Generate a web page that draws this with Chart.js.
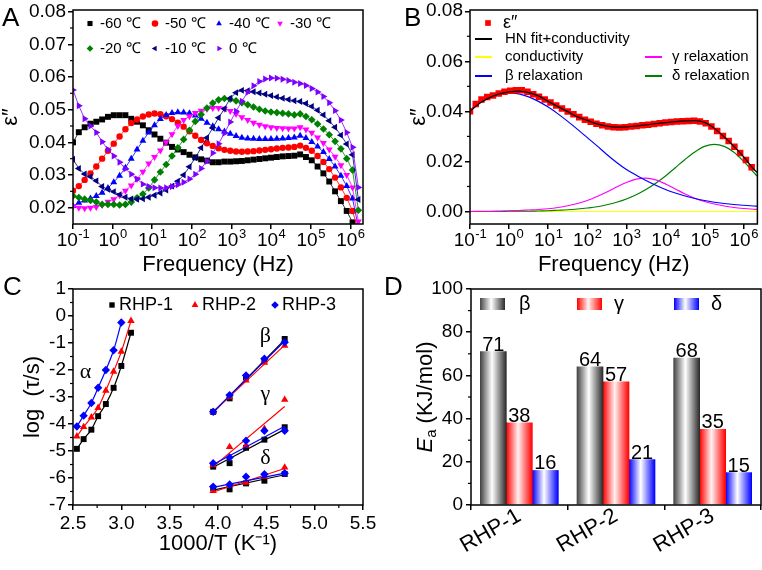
<!DOCTYPE html>
<html>
<head>
<meta charset="utf-8">
<title>Dielectric relaxation of RHP samples</title>
<script src="https://cdn.jsdelivr.net/npm/chart.js@4.4.1/dist/chart.umd.min.js"></script>
<style>
  html, body { margin: 0; padding: 0; background: #fff; }
  #fig { position: relative; width: 762px; height: 570px; overflow: hidden; }
  #fig canvas { position: absolute; }
  .tag { position: absolute; font: 26px "Liberation Sans", Arial, sans-serif; line-height: 1; color: #000; }
</style>
</head>
<body>
<div id="fig">
  <canvas id="chartA" width="381" height="285" style="left:0;top:0;width:381px;height:285px"></canvas>
  <canvas id="chartB" width="381" height="285" style="left:381px;top:0;width:381px;height:285px"></canvas>
  <canvas id="chartC" width="381" height="305" style="left:0;top:265px;width:381px;height:305px"></canvas>
  <canvas id="chartD" width="381" height="305" style="left:381px;top:265px;width:381px;height:305px"></canvas>
  <div class="tag" style="left:2px;top:4px">A</div>
  <div class="tag" style="left:404px;top:4px">B</div>
  <div class="tag" style="left:3px;top:273px">C</div>
  <div class="tag" style="left:384px;top:273px">D</div>
</div>
<script>
// ---- panel A / B: log10 of frequency (Hz) for each measured point
const logFreq = [
  -1.000, -0.853, -0.706, -0.559, -0.412, -0.265, -0.118, 0.029, 0.176, 0.323,
  0.470, 0.617, 0.764, 0.911, 1.058, 1.205, 1.352, 1.499, 1.646, 1.793,
  1.940, 2.087, 2.234, 2.381, 2.528, 2.675, 2.822, 2.969, 3.116, 3.263,
  3.410, 3.557, 3.704, 3.851, 3.998, 4.145, 4.292, 4.439, 4.586, 4.733,
  4.880, 5.027, 5.174, 5.321, 5.468, 5.615, 5.762, 5.909, 6.056, 6.203
];

// ε'' at each temperature
const eps60 = [
  0.0400, 0.0431, 0.0446, 0.0457, 0.0463, 0.0470, 0.0478, 0.0483, 0.0483, 0.0483,
  0.0472, 0.0463, 0.0452, 0.0437, 0.0424, 0.0411, 0.0399, 0.0386, 0.0378, 0.0370,
  0.0362, 0.0354, 0.0348, 0.0344, 0.0339, 0.0339, 0.0341, 0.0341, 0.0342, 0.0343,
  0.0345, 0.0347, 0.0349, 0.0351, 0.0353, 0.0355, 0.0357, 0.0358, 0.0359, 0.0363,
  0.0355, 0.0345, 0.0326, 0.0305, 0.0280, 0.0250, 0.0220, 0.0190, 0.0155, 0.0115
];
const eps50 = [
  0.0252, 0.0266, 0.0285, 0.0305, 0.0326, 0.0350, 0.0374, 0.0396, 0.0418, 0.0440,
  0.0459, 0.0470, 0.0479, 0.0485, 0.0488, 0.0486, 0.0480, 0.0471, 0.0460, 0.0448,
  0.0434, 0.0420, 0.0407, 0.0397, 0.0389, 0.0382, 0.0377, 0.0374, 0.0372, 0.0371,
  0.0372, 0.0373, 0.0375, 0.0377, 0.0379, 0.0381, 0.0383, 0.0384, 0.0386, 0.0390,
  0.0383, 0.0374, 0.0358, 0.0340, 0.0318, 0.0292, 0.0262, 0.0230, 0.0190, 0.0130
];
const eps40 = [
  0.0205, 0.0215, 0.0222, 0.0228, 0.0236, 0.0246, 0.0260, 0.0278, 0.0298, 0.0322,
  0.0350, 0.0378, 0.0405, 0.0430, 0.0452, 0.0471, 0.0484, 0.0490, 0.0492, 0.0491,
  0.0489, 0.0482, 0.0472, 0.0460, 0.0449, 0.0440, 0.0433, 0.0426, 0.0419, 0.0414,
  0.0412, 0.0411, 0.0410, 0.0410, 0.0410, 0.0411, 0.0412, 0.0413, 0.0415, 0.0420,
  0.0413, 0.0401, 0.0387, 0.0370, 0.0349, 0.0326, 0.0298, 0.0266, 0.0228, 0.0140
];
const eps30 = [
  0.0203, 0.0200, 0.0198, 0.0200, 0.0202, 0.0208, 0.0218, 0.0226, 0.0238, 0.0252,
  0.0268, 0.0288, 0.0310, 0.0335, 0.0355, 0.0375, 0.0400, 0.0425, 0.0450, 0.0468,
  0.0480, 0.0490, 0.0497, 0.0502, 0.0505, 0.0505, 0.0503, 0.0496, 0.0487, 0.0477,
  0.0468, 0.0460, 0.0454, 0.0449, 0.0446, 0.0444, 0.0443, 0.0442, 0.0442, 0.0446,
  0.0439, 0.0429, 0.0415, 0.0398, 0.0378, 0.0356, 0.0330, 0.0300, 0.0262, 0.0158
];
const eps20 = [
  0.0236, 0.0231, 0.0226, 0.0222, 0.0217, 0.0210, 0.0210, 0.0210, 0.0208, 0.0210,
  0.0217, 0.0230, 0.0242, 0.0260, 0.0285, 0.0309, 0.0332, 0.0358, 0.0383, 0.0409,
  0.0437, 0.0464, 0.0485, 0.0505, 0.0520, 0.0530, 0.0534, 0.0532, 0.0527, 0.0521,
  0.0515, 0.0508, 0.0501, 0.0496, 0.0493, 0.0491, 0.0489, 0.0487, 0.0484, 0.0487,
  0.0479, 0.0469, 0.0456, 0.0441, 0.0423, 0.0403, 0.0380, 0.0350, 0.0315, 0.0192
];
const eps10 = [
  0.0348, 0.0320, 0.0303, 0.0295, 0.0282, 0.0265, 0.0256, 0.0249, 0.0240, 0.0232,
  0.0227, 0.0226, 0.0227, 0.0232, 0.0238, 0.0245, 0.0254, 0.0266, 0.0281, 0.0300,
  0.0325, 0.0353, 0.0383, 0.0414, 0.0444, 0.0475, 0.0503, 0.0535, 0.0552, 0.0559,
  0.0558, 0.0555, 0.0551, 0.0547, 0.0543, 0.0539, 0.0535, 0.0531, 0.0527, 0.0525,
  0.0519, 0.0510, 0.0498, 0.0484, 0.0466, 0.0446, 0.0422, 0.0395, 0.0362, 0.0225
];
const eps0 = [
  0.0560, 0.0512, 0.0472, 0.0450, 0.0430, 0.0402, 0.0378, 0.0358, 0.0339, 0.0319,
  0.0302, 0.0288, 0.0272, 0.0265, 0.0261, 0.0260, 0.0261, 0.0265, 0.0270, 0.0278,
  0.0288, 0.0302, 0.0320, 0.0342, 0.0367, 0.0396, 0.0428, 0.0462, 0.0495, 0.0526,
  0.0553, 0.0573, 0.0586, 0.0594, 0.0597, 0.0596, 0.0593, 0.0589, 0.0584, 0.0580,
  0.0574, 0.0565, 0.0554, 0.0540, 0.0521, 0.0497, 0.0468, 0.0430, 0.0385, 0.0262
];

// panel B: measured ε'' and the fitted components
const epsB = [
  0.0400, 0.0429, 0.0447, 0.0457, 0.0463, 0.0471, 0.0478, 0.0482, 0.0484, 0.0484,
  0.0478, 0.0468, 0.0458, 0.0447, 0.0435, 0.0423, 0.0411, 0.0399, 0.0388, 0.0377,
  0.0367, 0.0359, 0.0351, 0.0345, 0.0340, 0.0337, 0.0336, 0.0337, 0.0340, 0.0342,
  0.0345, 0.0347, 0.0350, 0.0353, 0.0356, 0.0358, 0.0360, 0.0361, 0.0362, 0.0363,
  0.0360, 0.0353, 0.0340, 0.0322, 0.0302, 0.0282, 0.0259, 0.0234, 0.0206, 0.0177
];
const fitLogF = [-1, -0.75, -0.5, -0.25, 0, 0.25, 0.5, 0.75, 1, 1.25, 1.5, 1.75, 2, 2.25, 2.5,
  2.75, 3, 3.25, 3.5, 3.75, 4, 4.25, 4.5, 4.75, 5, 5.25, 5.5, 5.75, 6, 6.25, 6.35];
const hnFit = [0.0400, 0.0432, 0.0455, 0.0470, 0.0478, 0.0481, 0.0475, 0.0462, 0.0440, 0.0419,
  0.0399, 0.0378, 0.0364, 0.0350, 0.0341, 0.0337, 0.0338, 0.0342, 0.0346, 0.0351,
  0.0355, 0.0359, 0.0362, 0.0363, 0.0356, 0.0332, 0.0298, 0.0260, 0.0218, 0.0170, 0.0155];
const condFit = [0.0001, 0.0001, 0.0001, 0, 0, 0, 0, 0, 0, 0, 0, 0, 0, 0, 0, 0,
  0, 0, 0, 0, 0, 0, 0, 0, 0, 0, 0, 0, 0, 0, 0];
const betaFit = [0.0405, 0.0435, 0.0456, 0.0468, 0.0474, 0.0470, 0.0458, 0.0440, 0.0417, 0.0390,
  0.0360, 0.0328, 0.0295, 0.0262, 0.0228, 0.0196, 0.0168, 0.0145, 0.0124, 0.0105,
  0.0088, 0.0074, 0.0062, 0.0052, 0.0044, 0.0037, 0.0032, 0.0028, 0.0025, 0.0022, 0.0021];
const gammaFit = [0.0000, 0.0001, 0.0001, 0.0002, 0.0003, 0.0004, 0.0006, 0.0008, 0.0011, 0.0016,
  0.0023, 0.0032, 0.0044, 0.0060, 0.0078, 0.0098, 0.0116, 0.0129, 0.0133, 0.0126,
  0.0110, 0.0090, 0.0070, 0.0053, 0.0040, 0.0030, 0.0022, 0.0016, 0.0012, 0.0009, 0.0008];
const deltaFit = [0.0000, 0.0000, 0.0000, 0.0000, 0.0001, 0.0001, 0.0001, 0.0002, 0.0003, 0.0005,
  0.0007, 0.0010, 0.0014, 0.0019, 0.0027, 0.0037, 0.0050, 0.0067, 0.0088, 0.0113,
  0.0142, 0.0175, 0.0208, 0.0238, 0.0260, 0.0268, 0.0260, 0.0237, 0.0200, 0.0157, 0.0140];

// panel C: relaxation map, 1000/T vs log(tau)
const alphaInvT = [2.54, 2.61, 2.69, 2.76, 2.84, 2.92, 3.00, 3.10];
const alphaRHP1 = [-4.92, -4.56, -4.21, -3.71, -3.26, -2.66, -1.85, -0.62];
const alphaRHP2 = [-4.46, -4.11, -3.75, -3.40, -2.76, -2.06, -1.32, -0.18];
const alphaRHP3 = [-4.09, -3.69, -3.22, -2.66, -2.00, -1.27, -0.24];
const subInvT = [3.95, 4.12, 4.29, 4.48, 4.69];
const betaRHP1 = [-3.55, -3.05, -2.27, -1.65, -0.85];
const betaRHP2 = [-3.55, -3.00, -2.38, -1.73, -1.10];
const betaRHP3 = [-3.55, -2.93, -2.20, -1.58, -0.97];
const gammaRHP1 = [-5.58, -5.45, -4.88, -4.58, -4.12];
const gammaRHP2 = [-5.52, -4.85, -4.80, -4.18, -3.10];
const gammaRHP3 = [-5.45, -5.24, -4.62, -4.25, -4.25];
const deltaRHP1 = [-6.38, -6.42, -6.20, -6.10, -5.85];
const deltaRHP2 = [-6.48, -6.26, -6.17, -5.95, -5.61];
const deltaRHP3 = [-6.32, -6.24, -5.95, -5.86, -5.82];
const fitInvT = [3.95, 4.69];
const betaLine1 = [-3.58, -0.88], betaLine2 = [-3.55, -1.08], betaLine3 = [-3.55, -0.93];
const gammaLine1 = [-5.60, -4.20], gammaLine2 = [-5.58, -3.35], gammaLine3 = [-5.50, -4.08];
const deltaLine1 = [-6.45, -5.88], deltaLine2 = [-6.52, -5.65], deltaLine3 = [-6.35, -5.82];
const processNames = ['α', 'β', 'γ', 'δ'];
const processX = [2.63, 4.49, 4.49, 4.49];
const processY = [-2.1, -0.75, -2.9, -5.27];

// panel D: activation energies
const samples = ['RHP-1', 'RHP-2', 'RHP-3'];
const eaBeta = [71, 64, 68];
const eaGamma = [38, 57, 35];
const eaDelta = [16, 21, 15];

// tick labels
const decadeTicks = [-1, 0, 1, 2, 3, 4, 5, 6];
const epsTicksA = [0.02, 0.03, 0.04, 0.05, 0.06, 0.07, 0.08];
const epsTicksB = [0, 0.02, 0.04, 0.06, 0.08];
const invTTicks = [2.5, 3.0, 3.5, 4.0, 4.5, 5.0, 5.5];
const tauTicks = [-7, -6, -5, -4, -3, -2, -1, 0, 1];
const eaTicks = [0, 20, 40, 60, 80, 100];

const SANS = '"Liberation Sans", Arial, Helvetica, sans-serif';
const SERIF = '"Liberation Serif", "Times New Roman", serif';
Chart.defaults.font.family = SANS;
Chart.defaults.color = '#000';
Chart.defaults.animation = false;
Chart.defaults.responsive = false;
Chart.defaults.plugins.legend.display = false;
Chart.defaults.plugins.tooltip.enabled = false;

const pairs = (xs, ys) => ys.map((y, i) => ({ x: xs[i], y }));
const between = (a, b, step) => {
  const out = [];
  for (let v = a; v <= b + 1e-9; v += step) out.push(+v.toFixed(4));
  return out;
};

// axis with fixed size so that plot areas line up with the figure
function axis(o) {
  const grid = { display: true, drawOnChartArea: false, drawTicks: true, tickLength: 5, color: '#000', lineWidth: 1.5 };
  const ticks = { font: { size: o.tickSize || 19 }, padding: o.tickPad !== undefined ? o.tickPad : 2, autoSkip: false, color: '#000' };
  if (o.label) ticks.callback = o.label;
  if (o.rotate !== undefined) { ticks.minRotation = o.rotate; ticks.maxRotation = o.rotate; }
  const a = {
    type: o.type || 'linear',
    border: { display: false },
    grid,
    ticks,
    afterFit: s => {
      if (s.isHorizontal()) s.height = o.size; else s.width = o.size;
      s.paddingTop = s.paddingBottom = s.paddingLeft = s.paddingRight = 0;
    }
  };
  if (o.min !== undefined) a.min = o.min;
  if (o.max !== undefined) a.max = o.max;
  if (o.tickVals) a.afterBuildTicks = s => { s.ticks = o.tickVals.map(v => ({ value: v })); };
  if (o.title) {
    a.title = { display: true, text: o.title, color: '#000', font: { size: 22, lineHeight: 1 }, padding: o.titlePad };
  }
  return a;
}

const framePlugin = {
  id: 'frame',
  afterDatasetsDraw(chart) {
    const { ctx, chartArea: a } = chart;
    ctx.save();
    ctx.strokeStyle = '#000';
    ctx.lineWidth = 1.5;
    ctx.strokeRect(a.left, a.top, a.right - a.left, a.bottom - a.top);
    ctx.restore();
  }
};

function minorTicks(spec) {
  return {
    id: 'minorTicks',
    afterDraw(chart) {
      const ctx = chart.ctx;
      ctx.save();
      ctx.strokeStyle = '#000';
      ctx.lineWidth = 1.2;
      Object.keys(spec).forEach(id => {
        const s = chart.scales[id];
        spec[id].forEach(v => {
          const p = s.getPixelForValue(v);
          ctx.beginPath();
          if (s.isHorizontal()) { ctx.moveTo(p, s.top); ctx.lineTo(p, s.top + 3); }
          else { ctx.moveTo(s.right, p); ctx.lineTo(s.right - 3, p); }
          ctx.stroke();
        });
      });
      ctx.restore();
    }
  };
}

// "10" with a raised exponent under each decade
function powerLabels(exps) {
  return {
    id: 'powerLabels',
    afterDraw(chart) {
      const { ctx } = chart;
      const s = chart.scales.x;
      const base = '19px ' + SANS, sup = '13px ' + SANS;
      ctx.save();
      ctx.fillStyle = '#000';
      ctx.textAlign = 'left';
      ctx.textBaseline = 'alphabetic';
      const y = s.top + 22;
      exps.forEach(e => {
        const t = String(e);
        ctx.font = base; const w1 = ctx.measureText('10').width;
        ctx.font = sup; const w2 = ctx.measureText(t).width;
        const x0 = s.getPixelForValue(e) - (w1 + w2) / 2;
        ctx.font = base; ctx.fillText('10', x0, y);
        ctx.font = sup; ctx.fillText(t, x0 + w1 + 0.5, y - 8);
      });
      ctx.restore();
    }
  };
}

function metalGradient(ctx, x0, x1, dark) {
  const g = ctx.createLinearGradient(x0, 0, x1, 0);
  g.addColorStop(0, dark[0]);
  g.addColorStop(0.45, dark[1]);
  g.addColorStop(1, dark[2]);
  return g;
}

function keyPlugin(items, font) {
  return {
    id: 'key',
    afterDraw(chart) {
      const ctx = chart.ctx;
      ctx.save();
      ctx.textBaseline = 'middle';
      ctx.textAlign = 'left';
      items.forEach(it => {
        if (it.kind === 'line') {
          ctx.strokeStyle = it.color;
          ctx.lineWidth = 2;
          ctx.beginPath(); ctx.moveTo(it.x0, it.y); ctx.lineTo(it.x1, it.y); ctx.stroke();
        } else if (it.kind === 'bar') {
          ctx.fillStyle = metalGradient(ctx, it.x0, it.x1, it.color);
          ctx.fillRect(it.x0, it.y - it.h / 2, it.x1 - it.x0, it.h);
        } else {
          ctx.fillStyle = it.color;
          Chart.helpers.drawPoint(ctx, { pointStyle: it.style, rotation: it.rot || 0, radius: it.r, borderWidth: 0 }, it.x, it.y);
        }
        ctx.fillStyle = '#000';
        ctx.font = it.font || font;
        ctx.fillText(it.text, it.tx, it.y);
      });
      ctx.restore();
    }
  };
}

// ---------------- A
const seriesA = [
  { label: '-60 ℃', values: eps60, color: '#000000', style: 'rect', rot: 0, r: 4.2 },
  { label: '-50 ℃', values: eps50, color: '#ff0000', style: 'circle', rot: 0, r: 3.2 },
  { label: '-40 ℃', values: eps40, color: '#0000ff', style: 'triangle', rot: 0, r: 4 },
  { label: '-30 ℃', values: eps30, color: '#ff00ff', style: 'triangle', rot: 180, r: 4 },
  { label: '-20 ℃', values: eps20, color: '#008000', style: 'rectRot', rot: 0, r: 3.8 },
  { label: '-10 ℃', values: eps10, color: '#000080', style: 'triangle', rot: 270, r: 4 },
  { label: '0 ℃', values: eps0, color: '#8000ff', style: 'triangle', rot: 90, r: 4 }
];
const keyColsA = [90, 155, 219, 280];
const keyA = seriesA.map((s, i) => ({
  kind: 'point', style: s.style, rot: s.rot, r: s.style === 'rect' ? 3.6 : 3.3, color: s.color,
  x: keyColsA[i < 4 ? i : i - 4], y: i < 4 ? 23.5 : 48.5,
  tx: keyColsA[i < 4 ? i : i - 4] + 10, text: s.label
}));

new Chart(document.getElementById('chartA'), {
  type: 'scatter',
  data: {
    datasets: seriesA.map((s, i) => ({
      label: s.label,
      data: pairs(logFreq, s.values),
      order: seriesA.length - i,
      showLine: true,
      borderColor: s.color,
      borderWidth: 0.8,
      backgroundColor: s.color,
      pointStyle: s.style,
      rotation: s.rot,
      pointRadius: s.r,
      pointBackgroundColor: s.color,
      pointBorderWidth: 0
    }))
  },
  options: {
    layout: { padding: { left: 0, top: 10, right: 18, bottom: 0 } },
    scales: {
      x: axis({ min: -1, max: 6.32, size: 61, tickVals: decadeTicks, label: () => '',
        title: 'Frequency (Hz)', titlePad: { top: 0, bottom: 9 } }),
      y: axis({ min: 0.015, max: 0.0805, size: 73, tickVals: epsTicksA, label: v => v.toFixed(2),
        title: 'ε″', titlePad: { top: 0, bottom: 0 } })
    }
  },
  plugins: [framePlugin, minorTicks({ y: between(0.025, 0.075, 0.01) }), powerLabels(decadeTicks),
    keyPlugin(keyA, '15px ' + SANS)]
});

// ---------------- B
const lineB = (label, values, color, order) => ({
  label, data: pairs(fitLogF, values), showLine: true, order,
  borderColor: color, borderWidth: 1.2, pointRadius: 0, cubicInterpolationMode: 'monotone'
});
new Chart(document.getElementById('chartB'), {
  type: 'scatter',
  data: {
    datasets: [
      { label: 'ε″', data: pairs(logFreq, epsB), order: 2, showLine: false,
        pointStyle: 'rect', pointRadius: 4.6, pointBackgroundColor: '#ff0000', pointBorderWidth: 0, backgroundColor: '#ff0000' },
      lineB('HN fit+conductivity', hnFit, '#000000', 1),
      lineB('conductivity', condFit, '#ffff00', 6),
      lineB('β relaxation', betaFit, '#0000ff', 3),
      lineB('γ relaxation', gammaFit, '#ff00ff', 4),
      lineB('δ relaxation', deltaFit, '#008000', 5)
    ]
  },
  options: {
    layout: { padding: { left: 0, top: 10, right: 1, bottom: 0 } },
    scales: {
      x: axis({ min: -1, max: 6.35, size: 61, tickVals: decadeTicks, label: () => '',
        title: 'Frequency (Hz)', titlePad: { top: 0, bottom: 9 } }),
      y: axis({ min: -0.005, max: 0.0805, size: 89, tickVals: epsTicksB, label: v => v.toFixed(2),
        title: 'ε″', titlePad: { top: 27, bottom: 0 } })
    }
  },
  plugins: [framePlugin, minorTicks({ y: between(0.01, 0.07, 0.02) }), powerLabels(decadeTicks),
    keyPlugin([
      { kind: 'point', style: 'rect', r: 4, color: '#ff0000', x: 107, y: 23, tx: 122, text: 'ε″', font: '18px ' + SANS },
      { kind: 'line', color: '#000000', x0: 94, x1: 111, y: 39, tx: 124, text: 'HN fit+conductivity' },
      { kind: 'line', color: '#ffff00', x0: 94, x1: 111, y: 57, tx: 124, text: 'conductivity' },
      { kind: 'line', color: '#ff00ff', x0: 264, x1: 281, y: 57, tx: 291, text: 'γ relaxation' },
      { kind: 'line', color: '#0000ff', x0: 94, x1: 111, y: 76, tx: 124, text: 'β relaxation' },
      { kind: 'line', color: '#008000', x0: 264, x1: 281, y: 76, tx: 291, text: 'δ relaxation' }
    ], '15px ' + SANS)]
});

// ---------------- C
const rhp = [
  { name: 'RHP-1', color: '#000000', style: 'rect', r: 4.2,
    alpha: alphaRHP1, sets: [betaRHP1, gammaRHP1, deltaRHP1], lines: [betaLine1, gammaLine1, deltaLine1] },
  { name: 'RHP-2', color: '#ff0000', style: 'triangle', r: 4.3,
    alpha: alphaRHP2, sets: [betaRHP2, gammaRHP2, deltaRHP2], lines: [betaLine2, gammaLine2, deltaLine2] },
  { name: 'RHP-3', color: '#0000ff', style: 'rectRot', r: 4.2,
    alpha: alphaRHP3, sets: [betaRHP3, gammaRHP3, deltaRHP3], lines: [betaLine3, gammaLine3, deltaLine3] }
];
const dsC = [];
rhp.forEach((s, k) => {
  const mark = { pointStyle: s.style, pointRadius: s.r, pointBackgroundColor: s.color, pointBorderWidth: 0,
    backgroundColor: s.color, borderColor: s.color, order: 3 - k };
  dsC.push(Object.assign({ label: s.name + ' α', data: pairs(alphaInvT, s.alpha), showLine: true,
    borderWidth: 1.2, cubicInterpolationMode: 'monotone' }, mark));
  s.sets.forEach((ys, j) => {
    dsC.push(Object.assign({ label: s.name + ' ' + processNames[j + 1], data: pairs(subInvT, ys), showLine: false }, mark));
    dsC.push({ label: s.name + ' fit', data: pairs(fitInvT, s.lines[j]), showLine: true, pointRadius: 0,
      borderColor: s.color, borderWidth: 1.2, order: 3 - k });
  });
});
const notesC = {
  id: 'notes',
  afterDatasetsDraw(chart) {
    const { ctx, scales } = chart;
    ctx.save();
    ctx.font = '22px ' + SERIF;
    ctx.fillStyle = '#000';
    ctx.textAlign = 'center';
    ctx.textBaseline = 'middle';
    processNames.forEach((t, i) => ctx.fillText(t, scales.x.getPixelForValue(processX[i]), scales.y.getPixelForValue(processY[i])));
    ctx.restore();
  }
};
new Chart(document.getElementById('chartC'), {
  type: 'scatter',
  data: { datasets: dsC },
  options: {
    layout: { padding: { left: 0, top: 24, right: 18, bottom: 0 } },
    scales: {
      x: axis({ min: 2.5, max: 5.5, size: 65, tickVals: invTTicks, label: v => v.toFixed(1), tickPad: 2,
        title: '1000/T (K⁻¹)', titlePad: { top: 0, bottom: 15 } }),
      y: axis({ min: -7, max: 1, size: 73, tickVals: tauTicks, label: v => String(v),
        title: 'log  (τ/s)', titlePad: { top: 22, bottom: 0 } })
    }
  },
  plugins: [framePlugin, minorTicks({ x: between(2.75, 5.25, 0.5), y: between(-6.5, 0.5, 1) }), notesC,
    keyPlugin(rhp.map((s, k) => ({
      kind: 'point', style: s.style, r: s.r - 0.4, color: s.color,
      x: [112, 195, 275][k], y: 40, tx: [119, 202, 282][k], text: s.name
    })), '18px ' + SANS)]
});

// ---------------- D
const BAR_W = 26;
const barShades = [
  ['#444444', '#ffffff', '#2a2a2a'],
  ['#ff0000', '#fff2f2', '#ff0000'],
  ['#0000ff', '#ffffff', '#0000ff']
];
const barFill = c => {
  const chart = c.chart, xs = chart.scales.x;
  const shade = barShades[c.datasetIndex];
  if (c.type !== 'data' || !xs || !chart.chartArea) return shade[0];
  const cx = xs.getPixelForValue(c.dataIndex) + (c.datasetIndex - 1) * BAR_W;
  return metalGradient(chart.ctx, cx - BAR_W / 2, cx + BAR_W / 2, shade);
};
const barValues = {
  id: 'barValues',
  afterDatasetsDraw(chart) {
    const ctx = chart.ctx;
    ctx.save();
    ctx.font = '20px ' + SANS;
    ctx.fillStyle = '#000';
    ctx.textAlign = 'center';
    ctx.textBaseline = 'alphabetic';
    chart.data.datasets.forEach((ds, di) => {
      chart.getDatasetMeta(di).data.forEach((bar, i) => ctx.fillText(String(ds.data[i]), bar.x, bar.y - 1));
    });
    ctx.restore();
  }
};
const eaTitle = {
  id: 'eaTitle',
  afterDraw(chart) {
    const { ctx, chartArea: a } = chart;
    ctx.save();
    ctx.translate(45, (a.top + a.bottom) / 2);
    ctx.rotate(-Math.PI / 2);
    ctx.fillStyle = '#000';
    ctx.textBaseline = 'middle';
    ctx.textAlign = 'left';
    const big = '22px ' + SANS, ital = 'italic 22px ' + SANS, small = '15px ' + SANS;
    const rest = ' (KJ/mol)';
    ctx.font = ital; const wE = ctx.measureText('E').width;
    ctx.font = small; const wa = ctx.measureText('a').width;
    ctx.font = big; const wr = ctx.measureText(rest).width;
    let x = -(wE + wa + wr) / 2;
    ctx.font = ital; ctx.fillText('E', x, 0); x += wE;
    ctx.font = small; ctx.fillText('a', x, 6); x += wa;
    ctx.font = big; ctx.fillText(rest, x, 0);
    ctx.restore();
  }
};
new Chart(document.getElementById('chartD'), {
  type: 'bar',
  data: {
    labels: samples,
    datasets: [
      { label: 'β', data: eaBeta, backgroundColor: barFill, borderWidth: 0, barThickness: BAR_W },
      { label: 'γ', data: eaGamma, backgroundColor: barFill, borderWidth: 0, barThickness: BAR_W },
      { label: 'δ', data: eaDelta, backgroundColor: barFill, borderWidth: 0, barThickness: BAR_W }
    ]
  },
  options: {
    layout: { padding: { left: 0, top: 24, right: 1, bottom: 0 } },
    scales: {
      x: axis({ type: 'category', size: 65, tickSize: 22, tickPad: -7, rotate: 30 }),
      y: axis({ min: 0, max: 100, size: 90, tickVals: eaTicks, label: v => String(v), tickPad: 3 })
    }
  },
  plugins: [framePlugin, minorTicks({ y: between(10, 90, 20) }), barValues, eaTitle,
    keyPlugin([
      { kind: 'bar', color: barShades[0], x0: 99, x1: 124, y: 39, h: 12, tx: 138, text: 'β' },
      { kind: 'bar', color: barShades[1], x0: 196, x1: 221, y: 39, h: 12, tx: 233, text: 'γ' },
      { kind: 'bar', color: barShades[2], x0: 293, x1: 318, y: 39, h: 12, tx: 330, text: 'δ' }
    ], '20px ' + SANS)]
});
</script>
</body>
</html>
